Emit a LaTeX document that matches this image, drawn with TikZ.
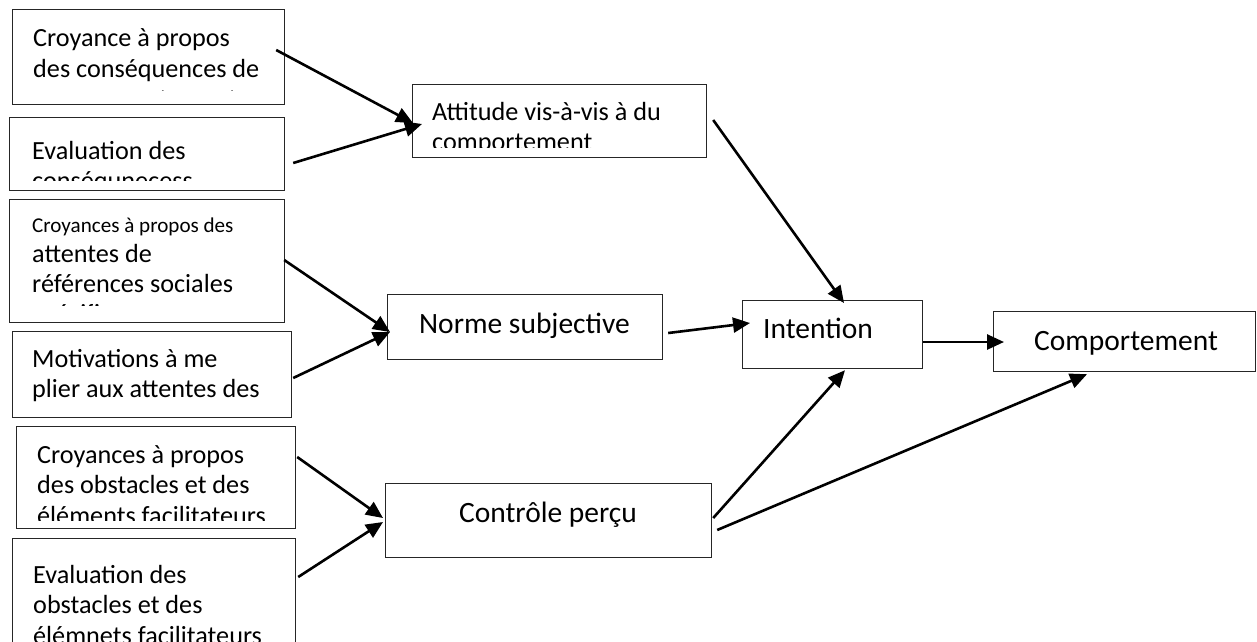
\documentclass[tikz,border=0pt]{standalone}
\usepackage{fontspec}
\setmainfont{Carlito}
\usetikzlibrary{arrows.meta,calc}
\tikzset{
  box/.style={draw=black!85, line width=1.2pt, inner sep=0pt, anchor=north west},
  txt/.style={anchor=base west, inner sep=0pt, font=\fontsize{26.2}{30.6}\selectfont},
  ctxt/.style={anchor=base, inner sep=0pt, font=\fontsize{29.5}{34}\selectfont},
  arr/.style={line width=2.6pt, -{Triangle[length=17pt,width=15pt]}},
}
% lines separated by \cr, exact baseline distance #1
\newcommand\mlines[2][30.6pt]{\vtop{\baselineskip=#1\lineskiplimit=-\maxdimen\lineskip=0pt
  \halign{##\hfil\cr #2\crcr}}}
\begin{document}
\begin{tikzpicture}[x=1pt,y=-1pt]
\clip (0,0) rectangle (1257,641);
\fill[white] (0,0) rectangle (1257,641);

% ---- boxes
\node[box, minimum width=272pt, minimum height=95pt]  (b1) at (12,9) {};
\node[box, minimum width=275pt, minimum height=73pt]  (b2) at (9,117) {};
\node[box, minimum width=275pt, minimum height=123pt] (b3) at (9,199) {};
\node[box, minimum width=279pt, minimum height=86pt]  (b4) at (12,331) {};
\node[box, minimum width=279pt, minimum height=102pt] (b5) at (16,426) {};
\node[box, minimum width=283pt, minimum height=130pt] (b6) at (12,538) {};
\node[box, minimum width=294pt, minimum height=73pt]  (att) at (412,84) {};
\node[box, minimum width=275pt, minimum height=65pt]  (norme) at (387,294) {};
\node[box, minimum width=326pt, minimum height=74pt]  (ctrl) at (385,483) {};
\node[box, minimum width=180pt, minimum height=68pt]  (int) at (742,300) {};
\node[box, minimum width=262pt, minimum height=60pt]  (comp) at (993,311) {};

% ---- texts (clipped as in the original text boxes)
\begin{scope}
  \clip (12,9) rectangle (284,90);
  \node[txt] (t1) at (33,46.7) {\mlines{Croyance à propos\cr des conséquences de\cr son comportement}};
\end{scope}
\begin{scope}
  \clip (9,117) rectangle (284,180);
  \node[txt] (t2) at (32,159) {\mlines{Evaluation des\cr conséqunecess}};
\end{scope}
\begin{scope}
  \clip (9,199) rectangle (284,305);
  \node[txt] (t3) at (32,232)
    {\mlines[30pt]{{\fontsize{21.1}{25}\selectfont Croyances à propos des}\cr attentes de\cr références sociales\cr spécifiques}};
\end{scope}
\begin{scope}
  \clip (12,331) rectangle (291,408);
  \node[txt] (t4) at (32,367) {\mlines{Motivations à me\cr plier aux attentes des\cr autres}};
\end{scope}
\begin{scope}
  \clip (16,426) rectangle (295,520);
  \node[txt] (t5) at (37,463) {\mlines{Croyances à propos\cr des obstacles et des\cr éléments facilitateurs}};
\end{scope}
\node[txt] (t6) at (33,583) {\mlines{Evaluation des\cr obstacles et des\cr élémnets facilitateurs}};
\begin{scope}
  \clip (412,84) rectangle (706,147);
  \node[txt] (ta) at (432,120) {\mlines{Attitude vis-à-vis à du\cr comportement}};
\end{scope}
\node[ctxt] (tn) at (524.5,333) {Norme subjective};
\node[ctxt] (tc) at (548,522) {Contrôle perçu};
\node[ctxt, anchor=base west] (ti) at (763,338) {Intention};
\node[ctxt] (tm) at (1126,350) {Comportement};

% ---- connectors
\draw[arr] ([shift={(-9,41)}]b1.north east) -- ([shift={(1,39)}]att.north west);
\draw[arr] ([shift={(8,46)}]b2.north east) -- ([shift={(10,40)}]att.north west);
\draw[arr] ([shift={(-1,61)}]b3.north east) -- ([shift={(3,38)}]norme.north west);
\draw[arr] ([shift={(1,47)}]b4.north east) -- ([shift={(3,38)}]norme.north west);
\draw[arr] ([shift={(1,31)}]b5.north east) -- ([shift={(-2,35)}]ctrl.north west);
\draw[arr] ([shift={(2,39)}]b6.north east) -- ([shift={(-2,39)}]ctrl.north west);
\draw[arr] ([shift={(6,36)}]att.north east) -- ([shift={(102,3)}]int.north west);
\draw[arr] ([shift={(5,39)}]norme.north east) -- ([shift={(8,23)}]int.north west);
\draw[arr] ([shift={(1,35)}]ctrl.north east) -- ([shift={(103,1)}]int.south west);
\draw[arr] ([shift={(0,42)}]int.north east) -- ([shift={(11,31)}]comp.north west);
\draw[arr] ([shift={(5,47)}]ctrl.north east) -- ([shift={(94,2)}]comp.south west);
\end{tikzpicture}
\end{document}
